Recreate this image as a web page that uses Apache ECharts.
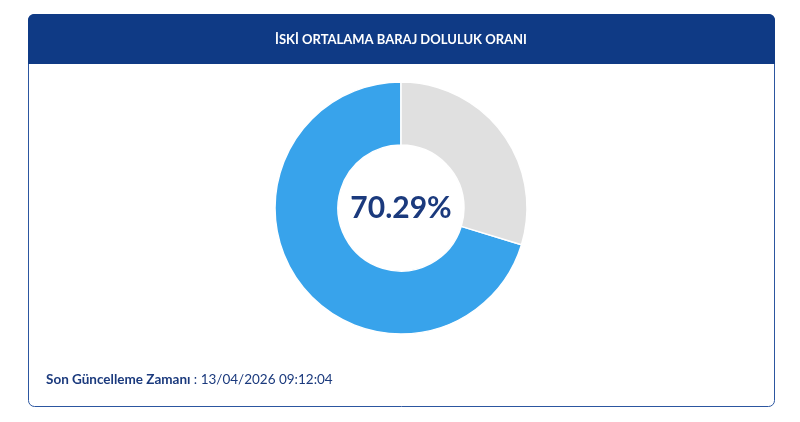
<!DOCTYPE html>
<html>
<head>
<meta charset="utf-8">
<script src="https://cdn.jsdelivr.net/npm/echarts@6/dist/echarts.min.js"></script>
<style>
  html, body { margin: 0; padding: 0; background: #fff; }
  #main { width: 800px; height: 422px; }
</style>
</head>
<body>
<div id="main"></div>
<script>
var titleText = 'İSKİ ORTALAMA BARAJ DOLULUK ORANI';
var sliceNames = ['Doluluk', 'Boş'];
var sliceValues = [70.29, 29.71];
var sliceColors = ['#38a3eb', '#e0e0e0'];
var updateLabel = 'Son Güncelleme Zamanı';
var updateTime = '13/04/2026 09:12:04';

var chart = echarts.init(document.getElementById('main'));

var data = sliceNames.map(function (n, i) {
  return { name: n, value: sliceValues[i], itemStyle: { color: sliceColors[i] } };
});

var option = {
  animation: false,
  textStyle: { fontFamily: 'Lato' },
  graphic: [
    {
      type: 'rect',
      shape: { x: 28.5, y: 14.5, width: 746, height: 392, r: 6 },
      style: { fill: '#fff', stroke: '#2c56a0', lineWidth: 1 },
      z: 0
    },
    {
      type: 'rect',
      shape: { x: 28, y: 14, width: 747, height: 50, r: [6, 6, 0, 0] },
      style: { fill: '#0f3a85' },
      z: 1
    },
    {
      type: 'text',
      x: 401, y: 40,
      style: {
        text: titleText,
        fill: '#fff',
        font: 'bold 13px Lato',
        align: 'center',
        verticalAlign: 'middle'
      },
      z: 2
    },
    {
      type: 'text',
      x: 46, y: 380,
      style: {
        text: '{b|' + updateLabel + '} {n|: ' + updateTime + '}',
        verticalAlign: 'middle',
        rich: {
          b: { fontFamily: 'Lato', fontWeight: 'bold', fontSize: 13.5, fill: '#1b3a7d', color: '#1b3a7d' },
          n: { fontFamily: 'Lato', fontSize: 13.5, fill: '#1b3a7d', color: '#1b3a7d' }
        }
      },
      z: 2
    }
  ],
  series: [
    {
      type: 'pie',
      center: [401, 208],
      radius: [63, 126],
      startAngle: 90,
      clockwise: false,
      silent: true,
      itemStyle: { borderColor: '#fff', borderWidth: 1.5 },
      label: {
        show: true,
        position: 'center',
        formatter: function () { return sliceValues[0].toFixed(2) + '%'; },
        fontSize: 30,
        fontWeight: 'bold',
        fontFamily: 'Lato',
        color: '#1b3a7d'
      },
      labelLine: { show: false },
      emphasis: { disabled: true },
      data: data,
      z: 3
    }
  ]
};
chart.setOption(option);
window.onresize = chart.resize;
</script>
</body>
</html>
